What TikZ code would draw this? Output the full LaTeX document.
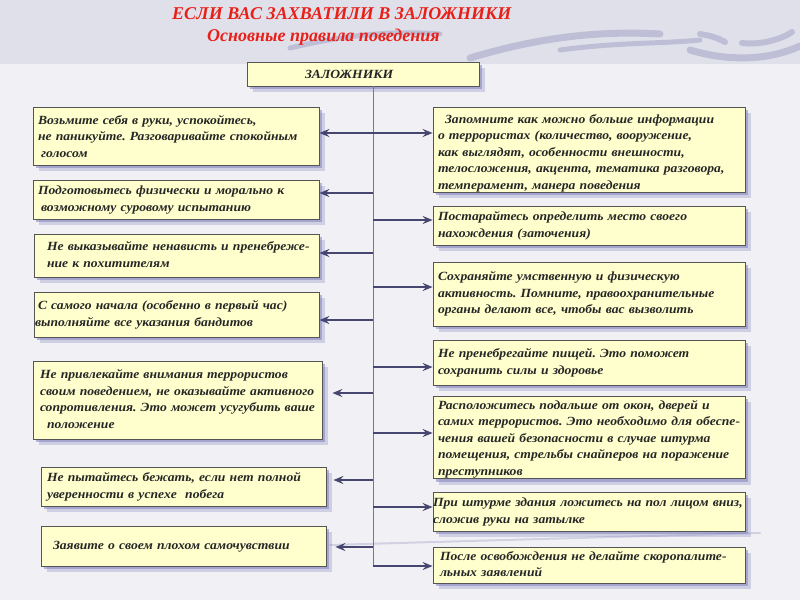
\documentclass[tikz,border=0pt]{standalone}
\usepackage{fontspec}
\setmainfont{Liberation Serif}
\newfontfamily\bodyf[FakeStretch=1.09]{Liberation Serif}
\usetikzlibrary{arrows.meta,shadows}
\frenchspacing
\definecolor{bgtop}{RGB}{224,224,235}
\definecolor{bgmain}{RGB}{241,241,245}
\definecolor{boxfill}{RGB}{255,255,206}
\definecolor{boxdraw}{RGB}{85,85,85}
\definecolor{arrc}{RGB}{70,70,112}
\definecolor{trunkc}{RGB}{118,118,150}
\definecolor{titlec}{RGB}{232,32,24}
\definecolor{shadc}{RGB}{130,130,190}
\definecolor{swc}{RGB}{150,150,190}
\newcommand\boxlines[2][0pt]{\raisebox{-#1}[\height][\depth]{\begin{tabular}{@{}l@{}}#2\end{tabular}}}
\tikzset{
  box/.style={draw=boxdraw, line width=0.8pt, fill=boxfill,
    drop shadow={shadow xshift=6pt, shadow yshift=-6pt, fill=shadc, opacity=0.3},
    drop shadow={shadow xshift=3pt, shadow yshift=-3pt, fill=shadc, opacity=0.55},
    font=\bodyf\bfseries\itshape\fontsize{12.5}{16.5}\selectfont,
    align=left, inner xsep=5pt, inner ysep=0pt, anchor=center, text=black!85},
  arr/.style={draw=arrc, line width=1.6pt, -{Stealth[length=10pt,width=8pt,inset=3.5pt]}},
  arrboth/.style={draw=arrc, line width=1.6pt, {Stealth[length=10pt,width=8pt,inset=3.5pt]}-{Stealth[length=10pt,width=8pt,inset=3.5pt]}},
  trunk/.style={draw=trunkc, line width=1pt},
  ttl/.style={text=titlec, font=\bfseries\itshape\fontsize{18}{20}\selectfont, anchor=west, inner sep=0pt},
  swoosh/.style={draw=swc, line cap=round, opacity=0.45}
}
\begin{document}
\begin{tikzpicture}[x=1pt,y=-1pt]
% background
\fill[bgmain] (0,0) rectangle (800,600);
\fill[bgtop] (0,0) rectangle (800,64);
\useasboundingbox (0,0) rectangle (800,600);
\draw[swoosh, line width=5pt] (290,48) .. controls (340,36) and (390,30) .. (440,34);
\draw[swoosh, line width=7pt] (470,58) .. controls (530,40) and (590,30) .. (660,34);
\draw[swoosh, line width=5pt] (560,50) .. controls (620,42) and (660,44) .. (700,40);
\draw[swoosh, line width=6pt] (700,34) .. controls (712,36) and (718,38) .. (725,42);
\draw[swoosh, line width=6pt] (742,43) .. controls (760,45) and (780,40) .. (792,32);
\draw[swoosh, line width=7pt] (690,50) .. controls (730,62) and (770,60) .. (800,46);
\draw[swoosh, line width=2pt, opacity=0.35] (330,545) .. controls (500,540) and (650,536) .. (760,533);
% titles
\node[ttl] (t1) at (172,14) {ЕСЛИ ВАС ЗАХВАТИЛИ В ЗАЛОЖНИКИ};
\node[ttl] (t2) at (207,37) {Основные правила поведения};
% top box
\node[box, text width=222pt, minimum height=24pt] (Z) at (363,74) {\hspace*{53pt}ЗАЛОЖНИКИ};
% left boxes
\node[box, text width=276pt, minimum height=58pt] (L1) at (176,136)
  {\boxlines[1.5pt]{Возьмите себя в руки, успокойтесь,\\не паникуйте. Разговаривайте спокойным\\\hspace*{3pt}голосом}};
\node[box, text width=276pt, minimum height=39pt] (L2) at (176,199.5)
  {\boxlines{Подготовьтесь физически и морально к\\\hspace*{3pt}возможному суровому испытанию}};
\node[box, text width=275pt, minimum height=43pt] (L3) at (176.5,255.5)
  {\boxlines{\hspace*{8pt}Не выказывайте ненависть и пренебреже-\\\hspace*{8pt}ние к похитителям}};
\node[box, text width=275pt, minimum height=45pt] (L4) at (176.5,314.5)
  {\boxlines{\hspace*{-1pt}С самого начала (особенно в первый час)\\\hspace*{-4pt}выполняйте все указания бандитов}};
\node[box, text width=279pt, minimum height=78pt] (L5) at (177.5,400)
  {\boxlines{\hspace*{2pt}Не привлекайте внимания террористов\\\hspace*{2pt}своим поведением, не оказывайте активного\\\hspace*{2pt}сопротивления. Это может усугубить ваше\\\hspace*{9pt}положение}};
\node[box, text width=275pt, minimum height=39pt] (L6) at (183.5,486.5)
  {\boxlines{\hspace*{1pt}Не пытайтесь бежать, если нет полной\\\hspace*{1pt}уверенности в успехе \ побега}};
\node[box, text width=275pt, minimum height=40pt] (L7) at (183.5,546)
  {\boxlines{\hspace*{7pt}Заявите о своем плохом самочувствии}};
% right boxes
\node[box, text width=302pt, minimum height=85pt] (R1) at (589,149.5)
  {\boxlines[3.5pt]{\hspace*{7pt}Запомните как можно больше информации\\о террористах (количество, вооружение,\\как выглядят, особенности внешности,\\телосложения, акцента, тематика разговора,\\темперамент, манера поведения}};
\node[box, text width=302pt, minimum height=39pt] (R2) at (589,225.5)
  {\boxlines{Постарайтесь определить место своего\\нахождения (заточения)}};
\node[box, text width=302pt, minimum height=64pt] (R3) at (589,294)
  {\boxlines{Сохраняйте умственную и физическую\\активность. Помните, правоохранительные\\органы делают все, чтобы вас вызволить}};
\node[box, text width=302pt, minimum height=45pt] (R4) at (589,362.5)
  {\boxlines{Не пренебрегайте пищей. Это поможет\\сохранить силы и здоровье}};
\node[box, text width=302pt, minimum height=81pt] (R5) at (589,437.5)
  {\boxlines[1.5pt]{Расположитесь подальше от окон, дверей и\\самих террористов. Это необходимо для обеспе-\\чения вашей безопасности в случае штурма\\помещения, стрельбы снайперов на поражение\\преступников}};
\node[box, text width=302pt, minimum height=39pt] (R6) at (589,511.5)
  {\boxlines{\hspace*{-5pt}При штурме здания ложитесь на пол лицом вниз,\\\hspace*{-5pt}сложив руки на затылке}};
\node[box, text width=302pt, minimum height=36pt] (R7) at (589,565)
  {\boxlines{\hspace*{2pt}После освобождения не делайте скоропалите-\\\hspace*{2pt}льных заявлений}};
% trunk
\coordinate (tb) at (373,566);
\draw[trunk] (Z.south -| tb) -- (tb);
% connector points on trunk
\coordinate (a1) at (373,133);
\coordinate (a2) at (373,193);
\coordinate (b2) at (373,220);
\coordinate (a3) at (373,253);
\coordinate (b3) at (373,287);
\coordinate (a4) at (373,320);
\coordinate (b4) at (373,367);
\coordinate (a5) at (373,393);
\coordinate (b5) at (373,433);
\coordinate (a6) at (373,480);
\coordinate (b6) at (373,507);
\coordinate (a7) at (373,547);
% arrows
\draw[arrboth] (L1.east |- a1) -- (R1.west |- a1);
\draw[arr] (a2) -- (L2.east |- a2);
\draw[arr] (b2) -- (R2.west |- b2);
\draw[arr] (a3) -- (L3.east |- a3);
\draw[arr] (b3) -- (R3.west |- b3);
\draw[arr] (a4) -- (L4.east |- a4);
\draw[arr] (b4) -- (R4.west |- b4);
\draw[arr, shorten >=10pt] (a5) -- (L5.east |- a5);
\draw[arr] (b5) -- (R5.west |- b5);
\draw[arr, shorten >=7pt] (a6) -- (L6.east |- a6);
\draw[arr] (b6) -- (R6.west |- b6);
\draw[arr, shorten >=9pt] (a7) -- (L7.east |- a7);
\draw[arr] (tb) -- (R7.west |- tb);
\end{tikzpicture}
\end{document}
